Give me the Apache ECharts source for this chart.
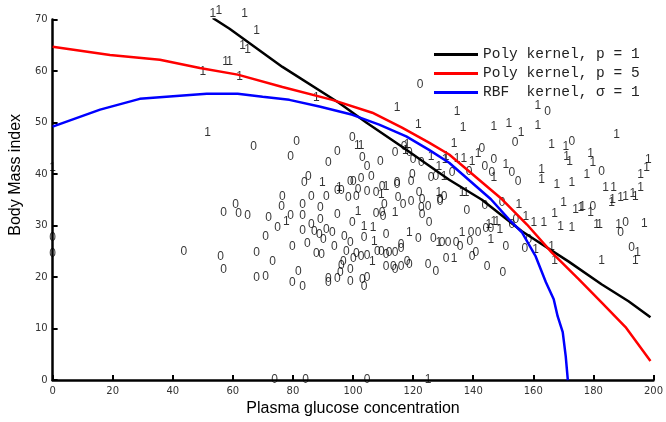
<!DOCTYPE html>
<html>
<head>
<meta charset="utf-8">
<script src="https://cdn.jsdelivr.net/npm/echarts@6/dist/echarts.min.js"></script>
<style>
html,body{margin:0;padding:0;background:#fff;}
#chart{width:666px;height:422px;}
</style>
</head>
<body>
<div id="chart"></div>
<script>
// Class 0 samples: [glucose, BMI]
const class0 = [
[122.3,57.3],[66.9,45.3],[81.2,46.3],[79.2,43.4],[99.8,47.1],[94.8,44.3],[91.8,42.2],[103.1,43.2],[104.7,41.4],[109.1,42.4],
[114.0,44.2],[117.0,45.3],[118.7,44.2],[120.0,42.8],[122.7,42.2],[127.6,39.5],[126.0,39.3],[119.7,39.9],[119.3,38.5],[114.7,38.3],
[106.1,39.5],[102.7,39.1],[100.1,38.5],[99.1,38.5],[85.1,39.5],[83.8,38.3],[94.8,36.8],[76.5,35.6],[86.1,35.6],[91.1,35.6],
[109.7,37.6],[114.7,38.0],[101.7,37.0],[104.7,36.6],[107.7,36.4],[122.0,36.4],[130.3,35.6],[164.8,52.1],[142.9,44.9],[153.9,46.1],
[172.8,46.3],[182.7,40.5],[146.9,42.8],[152.9,40.3],[154.9,38.5],[143.9,41.4],[146.2,40.3],[133.0,40.3],[138.6,40.5],[137.9,32.9],
[143.9,33.9],[149.6,34.5],[179.8,33.7],[190.7,30.6],[189.1,28.7],[192.7,25.8],[150.9,25.9],[157.2,25.6],[158.5,27.3],[154.2,31.2],
[144.6,22.1],[149.9,20.9],[140.9,24.8],[139.6,24.0],[135.6,25.9],[138.9,26.9],[139.3,28.7],[141.6,28.7],[144.2,29.4],[145.9,29.4],
[129.6,26.7],[131.6,26.7],[152.9,30.2],[60.9,34.1],[61.9,32.3],[64.9,32.0],[71.9,31.6],[76.2,33.7],[79.2,32.0],[74.9,29.6],
[70.9,27.9],[67.9,24.8],[73.2,22.9],[67.9,19.9],[70.9,20.1],[79.8,19.0],[83.2,18.2],[81.8,21.1],[83.2,34.1],[83.2,32.0],
[89.1,33.5],[89.1,31.2],[83.2,29.0],[86.1,30.2],[87.1,28.9],[88.8,28.3],[90.1,27.3],[91.1,29.2],[93.1,28.7],[79.8,25.9],
[84.8,26.5],[87.8,24.6],[89.5,24.4],[93.8,25.9],[97.1,27.9],[94.8,32.1],[99.8,30.6],[103.7,27.7],[99.1,26.7],[97.8,25.0],
[108.1,25.0],[109.4,25.0],[111.0,28.3],[101.1,24.6],[102.7,24.0],[100.1,23.6],[96.8,23.0],[96.1,22.3],[95.8,20.9],[99.1,21.5],
[111.0,22.1],[113.4,22.1],[114.0,21.5],[116.0,22.1],[118.7,22.5],[118.0,23.0],[111.0,24.4],[112.0,24.8],[114.0,24.8],[116.0,26.3],
[116.0,25.6],[121.7,27.5],[126.7,27.5],[131.0,23.6],[125.0,22.5],[127.6,21.1],[91.8,19.6],[91.8,19.0],[94.8,19.6],[99.1,19.2],
[103.1,19.4],[104.7,19.9],[103.7,18.2],[73.9,0],[84.2,0],[104.7,0],[107.7,32.3],[109.7,32.5],[110.0,31.8],[110.4,34.1],
[116.7,34.1],[122.7,33.5],[123.0,32.1],[125.3,30.6],[125.0,33.7],[129.0,34.7],[0,27.7],[0,24.6],[43.7,25.0],[55.9,24.0],
[56.9,21.5],[56.9,32.5],[96.1,36.8],[98.4,35.4],[101.1,35.6],[123.0,35.1],[129.0,35.1],[115.0,35.4],[119.3,34.7],[104.7,24.2],
[134.3,26.7]
];
// Class 1 samples: [glucose, BMI]
const class1 = [
[53.3,71.1],[55.3,71.8],[63.9,71.1],[67.9,67.8],[63.2,64.9],[64.9,64.1],[57.6,61.8],[58.9,61.8],[50.0,59.8],[62.2,58.9],
[87.8,54.8],[51.6,48.0],[0,41.2],[114.7,52.9],[121.7,49.6],[101.4,45.5],[102.7,45.5],[118.0,45.7],[126.0,43.4],[128.6,41.4],
[131.0,43.4],[89.8,38.3],[95.4,37.4],[111.0,37.6],[109.4,36.0],[128.6,36.4],[134.6,52.1],[161.5,53.3],[136.6,49.0],[146.9,49.2],
[151.9,49.8],[155.9,48.0],[161.5,49.4],[187.7,47.6],[133.6,45.9],[141.6,44.0],[166.1,45.7],[170.8,45.3],[171.1,43.4],[172.1,42.4],
[179.1,44.0],[179.8,42.2],[177.8,39.9],[162.8,40.9],[162.8,38.9],[167.8,38.0],[172.8,38.3],[198.3,42.8],[197.7,41.2],[195.7,39.9],
[184.1,37.4],[186.7,37.4],[190.7,35.6],[195.7,37.4],[194.0,35.6],[150.9,41.8],[146.9,39.3],[136.9,43.0],[139.6,42.4],[130.6,42.8],
[134.6,43.0],[155.2,34.1],[170.1,34.5],[174.1,33.1],[175.8,33.5],[176.4,33.7],[179.1,32.5],[186.1,34.5],[167.1,32.3],[163.5,30.6],
[169.1,29.8],[172.8,29.6],[181.1,30.2],[182.1,30.2],[188.4,30.2],[197.0,30.4],[194.7,24.8],[194.0,23.2],[182.7,23.2],[167.1,23.2],
[166.1,25.9],[160.8,25.4],[157.5,31.8],[160.2,30.6],[136.3,28.7],[145.2,30.2],[148.9,29.2],[145.9,27.3],[146.9,30.8],[147.9,30.8],
[77.8,30.8],[101.7,32.7],[103.7,29.8],[106.7,29.6],[106.4,22.9],[118.7,28.7],[128.6,26.7],[114.0,32.5],[125.0,0],[133.6,23.6],
[136.3,36.4],[137.6,36.4],[189.1,35.4],[193.1,36.2],[186.4,35.1],[117.4,44.5],[130.3,39.5],[107.1,26.9]
];
// Decision boundaries: [glucose, BMI]
const polyP1 = [[53.3,70.3],[58.9,68.2],[76.5,60.8],[95.4,53.8],[104.4,50.0],[116.3,45.3],[132,38.9],[142.9,35.0],[156.2,28.9],[171.8,23.0],[182.7,18.6],[191.7,15.3],[199,12.2]];
const polyP5 = [[0,64.7],[19.1,63.1],[35.7,62.2],[49,60.6],[61.6,59.3],[76.5,56.9],[93.1,54.4],[106.4,51.9],[116.3,49.0],[125.3,46.1],[132,43.8],[149.6,35.1],[157.9,30.2],[166.1,24.8],[175.1,19.6],[182.7,15.1],[190.7,10.3],[199,3.7]];
const rbf = [[0,49.2],[15.8,52.5],[29,54.6],[42.3,55.2],[51.3,55.6],[61.6,55.6],[69.9,55.0],[78.8,54.4],[88.8,53.1],[99.8,51.5],[108.7,49.6],[117.7,47.3],[125.3,44.7],[132,42.2],[145.9,35.1],[151.9,31.2],[156.2,28.7],[160.8,24.0],[164.2,19.0],[166.8,15.7],[168.1,12.4],[169.8,9.3],[170.8,4.6],[171.5,0]];
const seriesNames = ['Poly kernel, p = 1', 'Poly kernel, p = 5', 'RBF  kernel, \u03c3 = 1'];
const xTicks = {min: 0, max: 200, interval: 20};
const yTicks = {min: 0, max: 70, interval: 10};

const chart = echarts.init(document.getElementById('chart'), null, {renderer: 'canvas'});
const tickFont = {fontFamily: 'DejaVu Sans', fontSize: 10, color: '#333'};
function labelSeries(data, txt) {
  return {
    type: 'scatter', data: data, symbolSize: 1, clip: false, silent: true, z: 2,
    itemStyle: {color: 'transparent'},
    label: {show: true, position: 'inside', formatter: txt, color: '#000', fontSize: 12, fontFamily: 'Liberation Sans'}
  };
}
function lineSeries(name, data, color) {
  return {
    type: 'line', name: name, data: data, symbol: 'none', silent: true, z: 3,
    lineStyle: {color: color, width: 2.5}, itemStyle: {color: color}
  };
}
chart.setOption({
  animation: false,
  grid: {left: 52.5, right: 11, top: 19.5, bottom: 41},
  xAxis: {
    type: 'value', min: xTicks.min, max: xTicks.max, interval: xTicks.interval,
    name: 'Plasma glucose concentration', nameLocation: 'middle', nameGap: 19,
    nameTextStyle: {fontFamily: 'Liberation Sans', fontSize: 16, color: '#000'},
    axisLine: {lineStyle: {color: '#000', width: 2.5}},
    axisTick: {inside: true, length: 5, lineStyle: {color: '#000', width: 2}},
    axisLabel: Object.assign({margin: 6}, tickFont),
    splitLine: {show: false}
  },
  yAxis: {
    type: 'value', min: yTicks.min, max: yTicks.max, interval: yTicks.interval,
    name: 'Body Mass index', nameLocation: 'middle', nameGap: 26,
    nameTextStyle: {fontFamily: 'Liberation Sans', fontSize: 16, color: '#000', padding: [0, 0, 0, 50]},
    axisLine: {lineStyle: {color: '#000', width: 2.5}},
    axisTick: {inside: true, length: 5, lineStyle: {color: '#000', width: 2}},
    axisLabel: Object.assign({margin: 5}, tickFont),
    splitLine: {show: false}
  },
  legend: {
    data: seriesNames.map(n => ({name: n, icon: 'rect'})),
    orient: 'vertical', left: 429, top: 42,
    itemWidth: 44, itemHeight: 3, itemGap: 4,
    textStyle: {fontFamily: 'Liberation Mono', fontSize: 14.5, color: '#222', lineHeight: 14}
  },
  series: [
    labelSeries(class0, '0'),
    labelSeries(class1, '1'),
    lineSeries(seriesNames[0], polyP1, '#000000'),
    lineSeries(seriesNames[1], polyP5, '#ff0000'),
    lineSeries(seriesNames[2], rbf, '#0000ff')
  ]
});
</script>
</body>
</html>
